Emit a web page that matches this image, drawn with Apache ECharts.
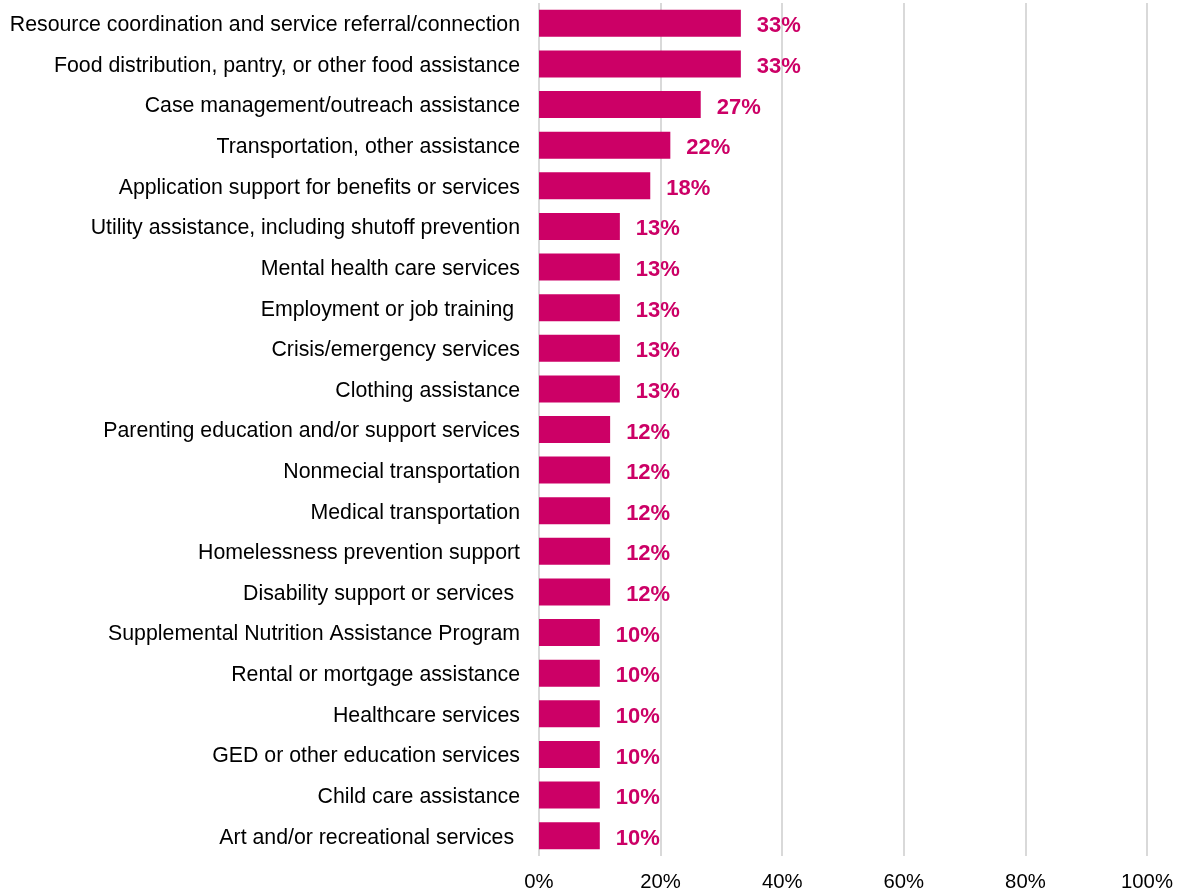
<!DOCTYPE html>
<html>
<head>
<meta charset="utf-8">
<script src="https://cdn.jsdelivr.net/npm/echarts@6/dist/echarts.min.js"></script>
<style>
    html, body { margin: 0; padding: 0; background: #fff; }
    #container { width: 1184px; height: 892px; }
</style>
</head>
<body>
<div id="container"></div>
<script>
let categories = [
    'Resource coordination and service referral/connection',
    'Food distribution, pantry, or other food assistance',
    'Case management/outreach assistance',
    'Transportation, other assistance',
    'Application support for benefits or services',
    'Utility assistance, including shutoff prevention',
    'Mental health care services',
    'Employment or job training ',
    'Crisis/emergency services',
    'Clothing assistance',
    'Parenting education and/or support services',
    'Nonmecial transportation',
    'Medical transportation',
    'Homelessness prevention support',
    'Disability support or services ',
    'Supplemental Nutrition Assistance Program',
    'Rental or mortgage assistance',
    'Healthcare services',
    'GED or other education services',
    'Child care assistance',
    'Art and/or recreational services '
];

// bar lengths (percent)
let values = [33.2, 33.2, 26.6, 21.6, 18.3, 13.3, 13.3, 13.3, 13.3, 13.3, 11.7, 11.7, 11.7, 11.7, 11.7, 10, 10, 10, 10, 10, 10];

// the rounded values that are printed next to the bars
let labels = ['33%', '33%', '27%', '22%', '18%', '13%', '13%', '13%', '13%', '13%', '12%', '12%', '12%', '12%', '12%', '10%', '10%', '10%', '10%', '10%', '10%'];

let xTicks = [0, 20, 40, 60, 80, 100];

var dom = document.getElementById('container');
var myChart = echarts.init(dom, null, {
    renderer: 'canvas',
    useDirtyRect: false
});

var option;

option = {
    animation: false,
    textStyle: {
        fontFamily: 'Liberation Sans, Arial, sans-serif'
    },
    grid: {
        left: 539,
        right: 37,
        top: 3,
        bottom: 36
    },
    xAxis: {
        type: 'value',
        min: xTicks[0],
        max: xTicks[xTicks.length - 1],
        interval: xTicks[1] - xTicks[0],
        axisLine: { show: false },
        axisTick: { show: false },
        axisLabel: {
            formatter: '{value}%',
            color: '#000',
            fontSize: 20.3,
            margin: 16
        },
        splitLine: {
            lineStyle: { color: '#d9d9d9', width: 2 }
        }
    },
    yAxis: {
        type: 'category',
        data: categories,
        inverse: true,
        axisLine: { show: false },
        axisTick: { show: false },
        axisLabel: {
            color: '#000',
            fontSize: 21.3,
            margin: 19,
            formatter: function (v) { return '{a|' + v + '}'; },
            rich: {
                a: {
                    color: '#000',
                    fontSize: 21.3,
                    padding: [4, 0, 0, 0]
                }
            }
        }
    },
    series: [
        {
            type: 'bar',
            data: values,
            barWidth: 27,
            itemStyle: { color: '#cc0066' },
            label: {
                show: true,
                position: 'right',
                distance: 16,
                offset: [0, 3],
                color: '#cc0066',
                fontSize: 22,
                fontWeight: 'bold',
                formatter: function (p) { return labels[p.dataIndex]; }
            }
        }
    ]
};

if (option && typeof option === 'object') {
    myChart.setOption(option);
}

window.addEventListener('resize', myChart.resize);
</script>
</body>
</html>
